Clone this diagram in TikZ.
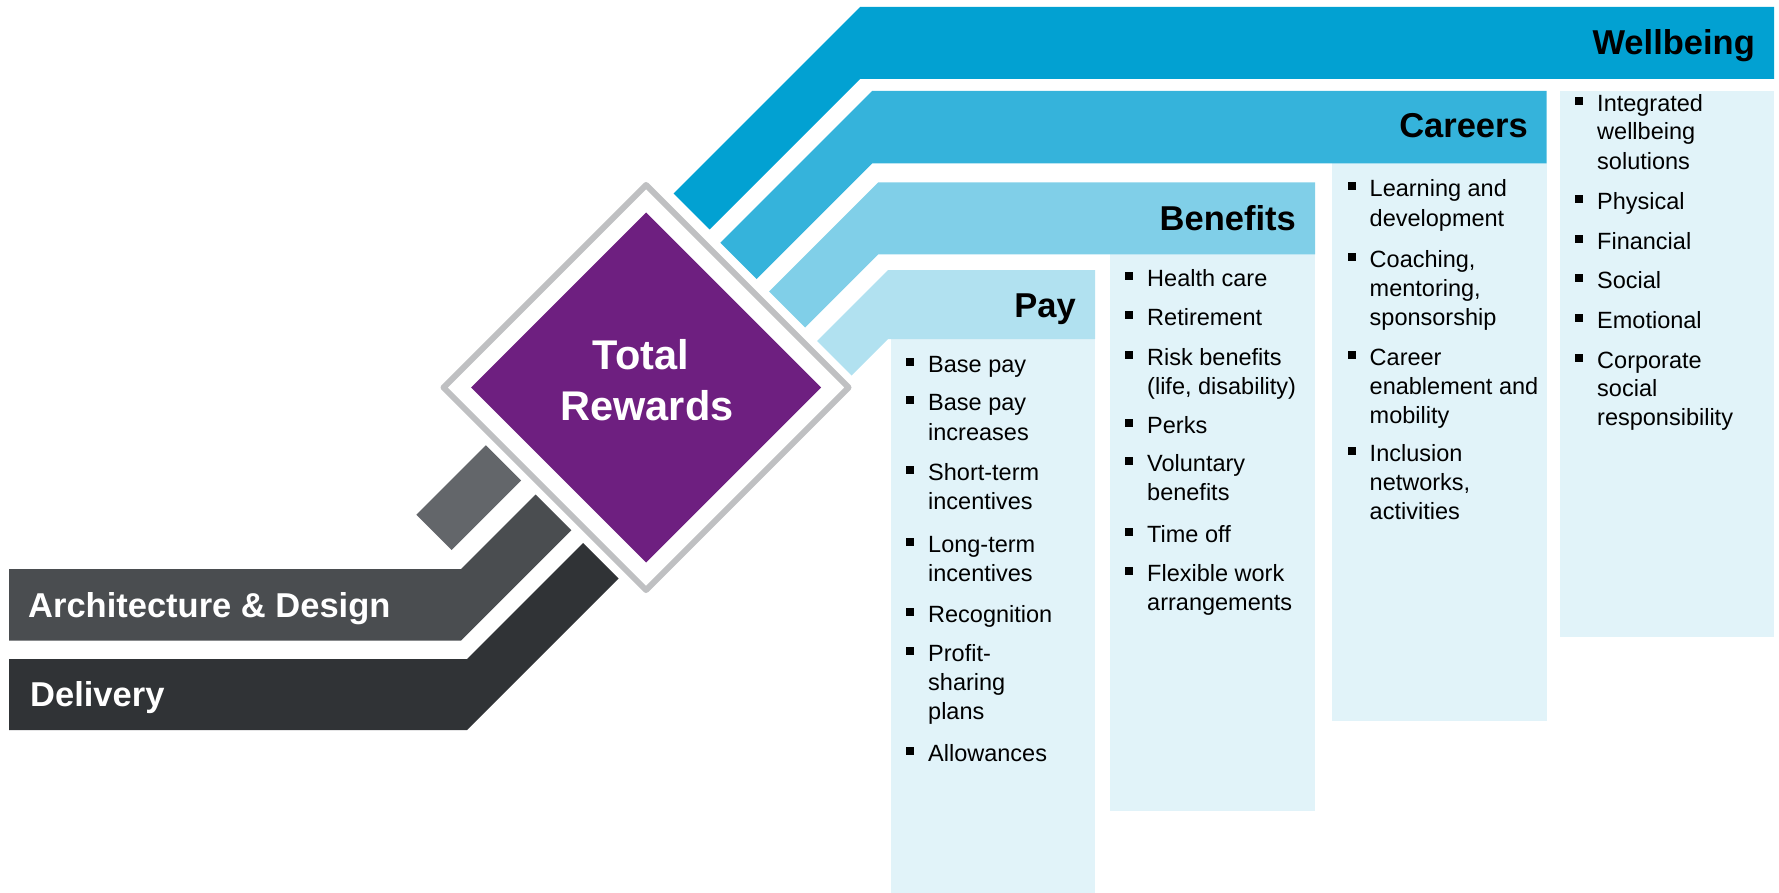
\documentclass[tikz,border=0pt]{standalone}
\usepackage{fontspec}
\setmainfont{Liberation Sans}
\definecolor{wellC}{HTML}{02A1D2}
\definecolor{careC}{HTML}{35B3DB}
\definecolor{beneC}{HTML}{80CFE8}
\definecolor{payC}{HTML}{B1E1F0}
\definecolor{listC}{HTML}{E1F3F9}
\definecolor{trC}{HTML}{6E1F80}
\definecolor{rimC}{HTML}{BFC0C2}
\definecolor{greyA}{HTML}{63666A}
\definecolor{greyB}{HTML}{4A4D50}
\definecolor{greyC}{HTML}{303336}
\begin{document}
\begin{tikzpicture}[x=1pt, y=-1pt, line join=round,
		head/.style={anchor=base east, inner sep=0pt, font=\fontsize{34.5}{40}\selectfont\bfseries},
		foot/.style={anchor=base west, inner sep=0pt, text=white, font=\fontsize{34.5}{40}\selectfont\bfseries},
		txt/.style={anchor=base west, inner sep=0pt, font=\fontsize{23.5}{29}\selectfont}]
	\useasboundingbox (0,0) rectangle (1779,893);
	% panels under the headers
	\fill[listC] (891,339) rectangle (1095,893);
	\fill[listC] (1110,254.5) rectangle (1315,811);
	\fill[listC] (1332,163.5) rectangle (1546.5,721);
	\fill[listC] (1560,91) rectangle (1774,637);
	% bands: colour / far x / corner x / top / bottom / cap (x-y)
	\foreach \col/\xf/\xc/\yt/\yb/\cp in {wellC/1774/860/7/79/480, careC/1546.5/872/91/163.5/477.5,
		beneC/1315/878/182.5/254.5/477.5, payC/1095/888/270/339/476,
		greyB/9/461/569/640.7/41, greyC/9/467/659/730/40}
		\fill[\col] (\xf,\yt) -- (\xc,\yt) -- ({(\xc+\yt+\cp)/2},{(\xc+\yt-\cp)/2})
			-- ({(\xc+\yb+\cp)/2},{(\xc+\yb-\cp)/2}) -- (\xc,\yb) -- (\xf,\yb) -- cycle;
	\fill[greyA] (485.75,445.25) -- (521,480.5) -- (451.5,550) -- (416.25,514.75) -- cycle;
	% diamond
	\coordinate (TR) at (646,387.5);
	\draw[rimC, line width=6pt] (646,185) -- (848.5,387.5) -- (646,590) -- (443.5,387.5) -- cycle;
	\fill[trC] (646,212.5) -- (821,387.5) -- (646,562.5) -- (471,387.5) -- cycle;
	\node[anchor=base, inner sep=0pt, text=white, font=\fontsize{41.5}{50}\selectfont\bfseries] (total) at (641,369) {Total};
	\node[anchor=base, inner sep=0pt, text=white, font=\fontsize{41.5}{50}\selectfont\bfseries] (rewards) at (647,420.5) {Rewards};
	% headers
	\node[head] (wellbeing) at (1755,54.5) {Wellbeing};
	\node[head] (careers) at (1528,138) {Careers};
	\node[head] (benefits) at (1296,231) {Benefits};
	\node[head] (pay) at (1076,317.5) {Pay};
	\node[foot] (arch) at (28,617) {Architecture \& Design};
	\node[foot] (delivery) at (30,706.5) {Delivery};
	% lists
	\foreach \y/\t [count=\i] in {372.7/Base pay, 410.7/Base pay, 440/increases, 480/Short-term, 509.3/incentives,
		552.7/Long-term, 581.7/incentives, 622.7/Recognition, 661.7/Profit-, 690/sharing, 719.3/plans, 761.7/Allowances}
		\node[txt] (pay\i) at (928,\y) {\t};
	\foreach \y in {372.7, 410.7, 480, 552.7, 622.7, 661.7, 761.7}
		\fill (906,\y-14.5) rectangle ++(8,8);
	\foreach \y/\t [count=\i] in {286.7/Health care, 325.7/Retirement, 365/Risk benefits, 394/{(life, disability)},
		433.3/Perks, 471.7/Voluntary, 500/benefits, 542.7/Time off, 581.7/Flexible work, 610/arrangements}
		\node[txt] (ben\i) at (1147,\y) {\t};
	\foreach \y in {286.7, 325.7, 365, 433.3, 471.7, 542.7, 581.7}
		\fill (1125,\y-14.5) rectangle ++(8,8);
	\foreach \y/\t [count=\i] in {196.7/Learning and, 226.7/development, 267.5/{Coaching,}, 296.7/{mentoring,},
		325/sponsorship, 365/Career, 394/enablement and, 423.3/mobility, 461/Inclusion, 490/{networks,}, 519.3/activities}
		\node[txt] (car\i) at (1369.5,\y) {\t};
	\foreach \y in {196.7, 267.5, 365, 461}
		\fill (1348,\y-14.5) rectangle ++(8,8);
	\foreach \y/\t [count=\i] in {111.7/Integrated, 140/wellbeing, 170/solutions, 210/Physical, 250/Financial,
		288.3/Social, 328.3/Emotional, 368.3/Corporate, 396.7/social, 425/responsibility}
		\node[txt] (wel\i) at (1597,\y) {\t};
	\foreach \y in {111.7, 210, 250, 288.3, 328.3, 368.3}
		\fill (1575,\y-14.5) rectangle ++(8,8);
\end{tikzpicture}
\end{document}
